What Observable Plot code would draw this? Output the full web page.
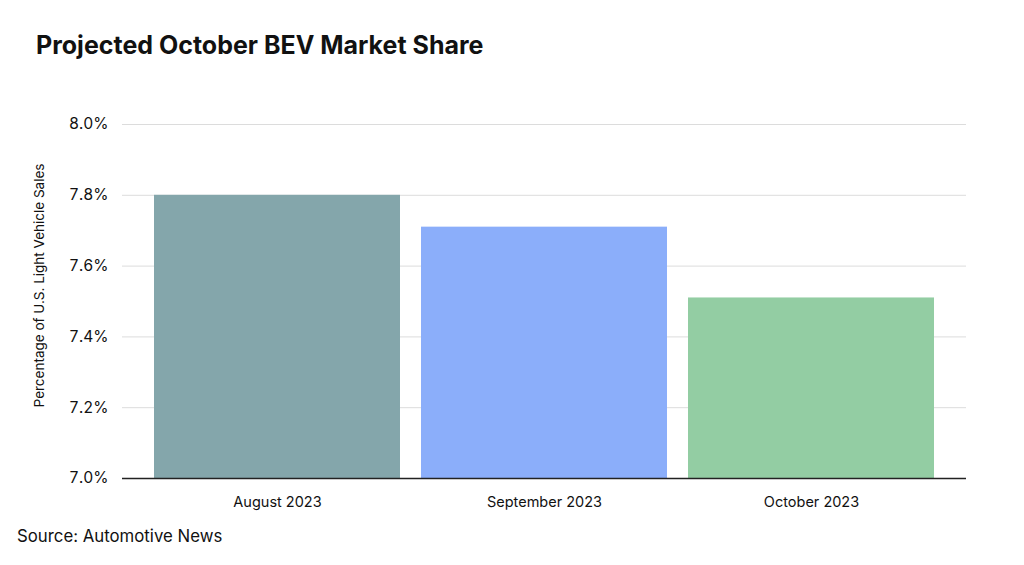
<!DOCTYPE html>
<html>
<head>
<meta charset="utf-8">
<script src="https://cdn.jsdelivr.net/npm/d3@7"></script>
<script src="https://cdn.jsdelivr.net/npm/@observablehq/plot@0.6"></script>
<style>
  html, body { margin: 0; padding: 0; background: #fff; }
  body { width: 1024px; height: 565px; overflow: hidden; font-family: Inter, "Noto Sans", sans-serif; }
  #title { height: 80px; box-sizing: border-box; padding: 29px 0 0 36px; font-size: 25px; font-weight: 700; color: #111; letter-spacing: 0px; line-height: 32px; }
  #caption { padding: 4px 0 0 17px; font-size: 16.8px; color: #111; line-height: 24px; }
  svg { display: block; }
</style>
</head>
<body>
<div id="title">Projected October BEV Market Share</div>
<div id="chart"></div>
<div id="caption">Source: Automotive News</div>
<script>
const months = ["August 2023", "September 2023", "October 2023"];
const shares = [7.80, 7.71, 7.51];
const colors = ["#84A6AB", "#8BAEFA", "#93CDA3"];
const yTicks = [7.0, 7.2, 7.4, 7.6, 7.8, 8.0];
const yLabel = "Percentage of U.S. Light Vehicle Sales";

const data = months.map((m, i) => ({month: m, share: shares[i], color: colors[i]}));

const chart = Plot.plot({
  width: 1024,
  height: 440,
  marginTop: 44,
  marginBottom: 42,
  marginLeft: 122,
  marginRight: 58,
  style: {fontFamily: "Inter, 'Noto Sans', sans-serif", color: "#111", background: "#fff"},
  x: {domain: months, paddingInner: 0.08, paddingOuter: 0.12, label: null},
  y: {domain: [7, 8], label: yLabel},
  marks: [
    Plot.gridY(yTicks, {stroke: "#dcdcdc", strokeOpacity: 1, strokeWidth: 1}),
    Plot.barY(data, {x: "month", y1: 7, y2: "share", fill: "color"}),
    Plot.ruleY([7], {stroke: "#222", strokeWidth: 1.5}),
    Plot.axisX({tickSize: 0, tickPadding: 18, fontSize: 14.5, label: null}),
    Plot.axisY({ticks: yTicks, tickFormat: d => d.toFixed(1) + "%", tickSize: 0, tickPadding: 14, fontSize: 15.5,
      label: yLabel, labelAnchor: "center", labelArrow: "none", labelOffset: 88})
  ]
});
chart.querySelectorAll('g[aria-label="y-axis label"] text').forEach(t => {
  t.setAttribute("font-size", "13.5");
  const tr = t.getAttribute("transform") || "";
  const m = tr.match(/translate\(([-\d.]+),([-\d.]+)\)/);
  if (m) t.setAttribute("transform", tr.replace(m[0], `translate(${m[1]},${+m[2] - 16})`));
});
document.getElementById("chart").appendChild(chart);
</script>
</body>
</html>
